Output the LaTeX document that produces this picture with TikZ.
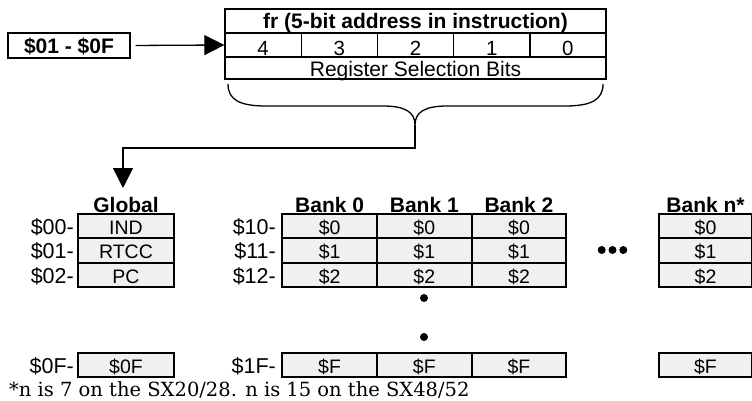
\documentclass[tikz,border=0pt]{standalone}
\usepackage{fontspec}
\setmainfont{DejaVu Serif}
\setsansfont{Liberation Sans}
\usetikzlibrary{arrows.meta}
\definecolor{cellgray}{HTML}{F0F0F0}
\begin{document}
\begin{tikzpicture}[x=1pt,y=-1pt,
  topbox/.style={draw, line width=1.4pt, inner sep=0pt, minimum height=24pt},
  bitcell/.style={topbox, minimum width=76.2pt, text height=22pt, text depth=0pt,
    font=\sffamily\fontsize{20.5}{20.5}\selectfont},
  cell/.style={draw, line width=2pt, fill=cellgray, inner sep=0pt, minimum height=24.3pt,
    text height=16.5pt, text depth=0pt, font=\sffamily\fontsize{19.5}{19.5}\selectfont},
  gcell/.style={cell, minimum width=96pt},
  bcell/.style={cell, minimum width=94.7pt},
  hdr/.style={anchor=base, inner sep=0pt, font=\sffamily\bfseries\fontsize{21}{21}\selectfont},
  rlab/.style={anchor=base east, inner sep=0pt, font=\sffamily\fontsize{21.5}{21.5}\selectfont},
  dotn/.style={circle, fill=black, inner sep=0pt, minimum size=8pt},
  conn/.style={line width=1.3pt, -{Triangle[length=20pt,width=20pt]}},
  bracepath/.style={line width=1.3pt}
]
\useasboundingbox (0,0) rectangle (752,401);

% top field box
\node[topbox, minimum width=381pt, text height=16pt, text depth=0pt,
  font=\sffamily\bfseries\fontsize{21}{21}\selectfont] (title) at (415.5,21)
  {fr (5-bit address in instruction)};
\node[bitcell] (b4) at (263.1,45) {4};
\node[bitcell] (b3) at (339.3,45) {3};
\node[bitcell] (b2) at (415.5,45) {2};
\node[bitcell] (b1) at (491.7,45) {1};
\node[bitcell] (b0) at (567.9,45) {0};
\node[topbox, minimum width=381pt, minimum height=22pt, text height=18pt, text depth=0pt,
  font=\sffamily\fontsize{21}{21}\selectfont] (reg) at (415.5,68) {Register Selection Bits};

% input box
\node[draw, line width=1.4pt, inner sep=0pt, minimum width=122pt, minimum height=25pt,
  text height=15.5pt, text depth=0pt, font=\sffamily\bfseries\fontsize{21}{21}\selectfont]
  (inbox) at (69,45.5) {\$01 - \$0F};
\draw[conn, shorten <=5pt] (inbox.east) -- (b4.west);

% brace
\coordinate (cusp) at (415,125);
\draw[bracepath] (228,84) .. controls (228,100) and (240,106) .. (266,106)
  -- (383,106) .. controls (405,106) and (415,112) .. (cusp)
  .. controls (415,112) and (425,106) .. (447,106)
  -- (565,106) .. controls (591,106) and (603,100) .. (603,84);
\coordinate (gtip) at (123,188);
\draw[conn] (cusp) -- ++(0,23) -| (gtip);

% headers
\node[hdr] (hg) at (126,212) {Global};
\node[hdr] (h0) at (329.6,212) {Bank 0};
\node[hdr] (h1) at (424.3,212) {Bank 1};
\node[hdr] (h2) at (519,212) {Bank 2};
\node[hdr] (hn) at (705.5,212) {Bank n*};

% global column
\node[gcell] (g0) at (126,226.15) {IND};
\node[gcell] (g1) at (126,250.45) {RTCC};
\node[gcell] (g2) at (126,274.75) {PC};
\node[gcell] (gf) at (126,365) {\$0F};
\node[rlab] (l00) at (74,234.5) {\$00-};
\node[rlab] (l01) at (74,258.8) {\$01-};
\node[rlab] (l02) at (74,283.1) {\$02-};
\node[rlab] (l0f) at (74,373.4) {\$0F-};

% bank labels
\node[rlab] (l10) at (276,234.5) {\$10-};
\node[rlab] (l11) at (276,258.8) {\$11-};
\node[rlab] (l12) at (276,283.1) {\$12-};
\node[rlab] (l1f) at (276,373.4) {\$1F-};

% banks 0..2
\foreach \c/\x in {0/329.6, 1/424.3, 2/519} {
  \node[bcell] (k\c r0) at (\x,226.15) {\$0};
  \node[bcell] (k\c r1) at (\x,250.45) {\$1};
  \node[bcell] (k\c r2) at (\x,274.75) {\$2};
  \node[bcell] (k\c rf) at (\x,365) {\$F};
}
% bank n
\node[cell, minimum width=93pt] (kn r0) at (705.5,226.15) {\$0};
\node[cell, minimum width=93pt] (kn r1) at (705.5,250.45) {\$1};
\node[cell, minimum width=93pt] (kn r2) at (705.5,274.75) {\$2};
\node[cell, minimum width=93pt] (kn rf) at (705.5,365) {\$F};

% ellipsis dots
\node[dotn] (hd1) at (601.7,250) {};
\node[dotn] (hd2) at (612.5,250) {};
\node[dotn] (hd3) at (623.3,250) {};
\node[dotn] (vd1) at (424,298) {};
\node[dotn] (vd2) at (424,337) {};

% footnote
\node[anchor=base west, inner sep=0pt, font=\rmfamily\fontsize{19.5}{19.5}\selectfont]
  (foot) at (9,396) {*n is 7 on the SX20/28. n is 15 on the SX48/52};
\end{tikzpicture}
\end{document}
